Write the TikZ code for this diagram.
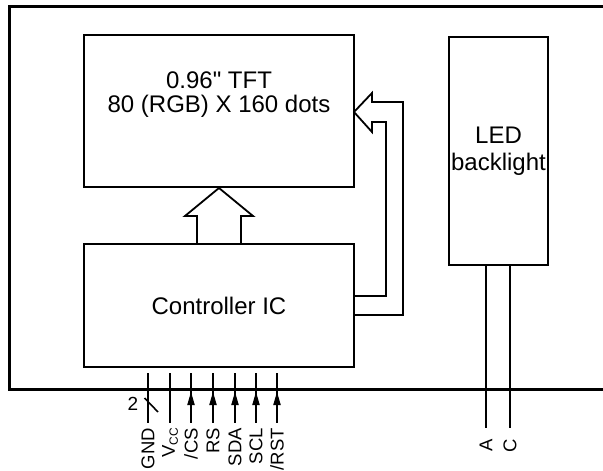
\documentclass[tikz,border=0pt]{standalone}
\usepackage{fontspec}
\setmainfont{Liberation Sans}[Ligatures=TeXOff]
\usetikzlibrary{arrows.meta}
\tikzset{
  box/.style={draw, line width=2.6pt, inner sep=0pt, align=center, font=\fontsize{24}{27}\selectfont},
  hollow/.style={draw, line width=1.8pt, line join=miter},
  pin/.style={line width=2pt},
  pinarrow/.style={fill=black},
  pinlabel/.style={rotate=90, anchor=east, inner sep=0pt, font=\fontsize{18.5}{18}\selectfont},
}
\begin{document}
\begin{tikzpicture}[x=1pt,y=-1pt]
\useasboundingbox (0,0) rectangle (603,471);
% outer frame, open to the right
\draw[line width=3pt, line join=miter] (610,6) -- (9,6) -- (9,389) -- (610,389);
% boxes
\node[box, minimum width=270pt, minimum height=152pt] (tft) at (219,111) {};
\node[font=\fontsize{24}{27}\selectfont] (tftl1) at (219,80) {0.96" TFT};
\node[font=\fontsize{24}{27}\selectfont] (tftl2) at (219,106) {80 (RGB) X 160 dots};
\node[box, minimum width=270pt, minimum height=123pt] (ctrl) at (219,305.5) {Controller IC};
\node[box, minimum width=99pt, minimum height=228pt] (led) at (498.5,151) {LED\\backlight};
% hollow up arrow
\draw[hollow] (197,243) -- (197,216) -- (185,216) -- (219,188) -- (253,216) -- (241,216) -- (241,243);
% hollow loop arrow
\draw[hollow] (354,315) -- (403,315) -- (403,102) -- (372,102) -- (372,93) -- (354,112) -- (372,132) -- (372,122) -- (386,122) -- (386,296) -- (354,296);
% pins
\foreach \x/\n in {148/gnd,170/vcc,191/cs,213/rs,235/sda,256/scl,277/rst}{
  \coordinate (\n top) at (\x,373);
  \coordinate (\n bot) at (\x,423);
  \draw[pin] (\n top) -- (\n bot);
}
\foreach \x in {191,213,235,256,277}{
  \fill[pinarrow] (\x,392) -- (\x-3.8,405) -- (\x+3.8,405) -- cycle;
}
\draw[line width=1.6pt] (144.5,398) -- (158,412);
\node[font=\fontsize{19}{19}\selectfont, inner sep=0pt] (two) at (133,404) {2};
\node[pinlabel] (lgnd) at (148,428) {GND};
\node[pinlabel] (lvcc) at (170,428) {V{\fontsize{12}{12}\selectfont\raisebox{-0.25em}{CC}}};
\node[pinlabel] (lcs) at (191,428) {/CS};
\node[pinlabel] (lrs) at (213,428) {RS};
\node[pinlabel] (lsda) at (235,428) {SDA};
\node[pinlabel] (lscl) at (256,428) {SCL};
\node[pinlabel] (lrst) at (277,428) {/RST};
% LED leads
\coordinate (aend) at (486,428);
\coordinate (cend) at (510,428);
\draw[pin] (led.south -| aend) -- (aend);
\draw[pin] (led.south -| cend) -- (cend);
\node[pinlabel] (la) at (486,439) {A};
\node[pinlabel] (lc) at (510,439) {C};
\end{tikzpicture}
\end{document}
